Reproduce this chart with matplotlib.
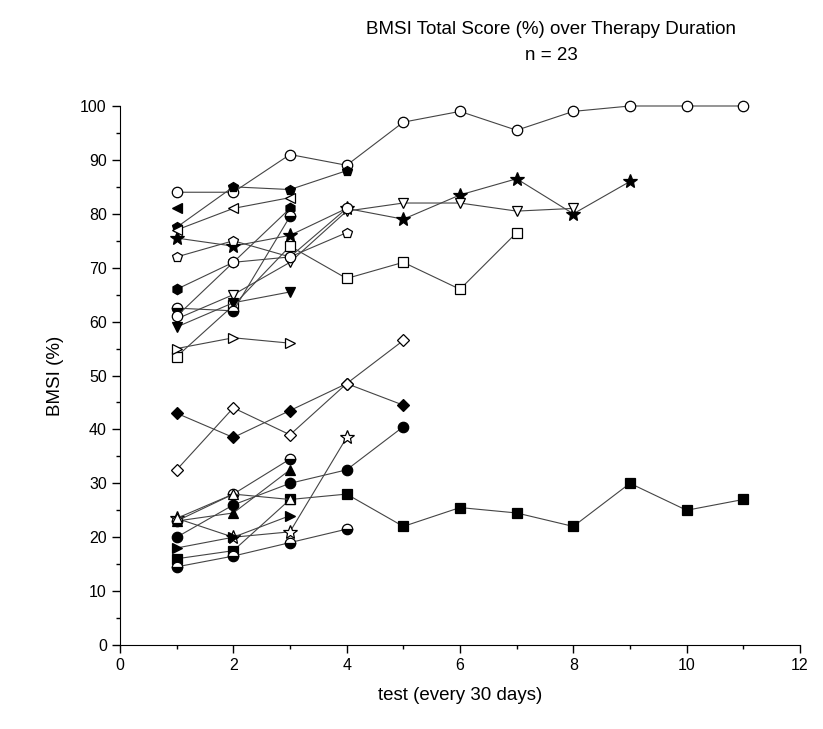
import matplotlib
matplotlib.use('Agg')
import matplotlib.pyplot as plt

plt.rcParams['font.family'] = ['Liberation Sans', 'DejaVu Sans']

title = "BMSI Total Score (%) over Therapy Duration"
subtitle = "n = 23"
x_label = "test (every 30 days)"
y_label = "BMSI (%)"

# one list per patient, test 1..n
# (values, marker, fill) fill: 'open', 'full', 'bottom'
patients = [
    ([84, 84, 91, 89, 97, 99, 95.5, 99, 100, 100, 100], 'o', 'open'),
    ([77.5, 85, 84.5, 88], 'p', 'full'),
    ([75.5, 74, 76, 81, 79, 83.5, 86.5, 80, 86], '*', 'full'),
    ([60.5, 65, 71, 80.5, 82, 82, 80.5, 81], 'v', 'open'),
    ([53.5, 63, 74, 68, 71, 66, 76.5], 's', 'open'),
    ([72, 75, 72, 76.5], 'p', 'open'),
    ([66, 71, 81], 'h', 'full'),
    ([77, 81, 83], '<', 'open'),
    ([81], '<', 'full'),
    ([55, 57, 56], '>', 'open'),
    ([59, 63.5, 65.5], 'v', 'full'),
    ([62.5, 62, 79.5], 'o', 'bottom'),
    ([61, 71, 72, 81], 'o', 'open'),
    ([43, 38.5, 43.5, 48.5, 44.5], 'D', 'full'),
    ([32.5, 44, 39, 48.5, 56.5], 'D', 'open'),
    ([16, 17.5, 27, 28, 22, 25.5, 24.5, 22, 30, 25, 27], 's', 'full'),
    ([20, 26, 30, 32.5, 40.5], 'o', 'full'),
    ([23.5, 20, 21, 38.5], '*', 'open'),
    ([14.5, 16.5, 19, 21.5], 'o', 'bottom'),
    ([23, 24.5, 32.5], '^', 'full'),
    ([18, 20, 24], '>', 'full'),
    ([23, 28, 34.5], 'o', 'bottom'),
    ([23.5, 28, 27], '^', 'open'),
]

fig = plt.figure(figsize=(8.23, 7.29), dpi=100)
ax = fig.add_axes([0.1458, 0.1152, 0.8262, 0.7394])

for vals, mk, fill in patients:
    xs = list(range(1, len(vals) + 1))
    size = 10 if mk == '*' else 7.5
    if mk == 'D':
        size = 6.5
    kw = dict(color='#444444', lw=0.8, marker=mk, markersize=size,
              markeredgecolor='black', markeredgewidth=0.9, clip_on=False)
    if fill == 'open':
        kw.update(markerfacecolor='white')
    elif fill == 'full':
        kw.update(markerfacecolor='black')
    else:
        kw.update(markerfacecolor='black', fillstyle='bottom',
                  markerfacecoloralt='white')
    ax.plot(xs, vals, **kw)

ax.set_xlim(0, 12)
ax.set_ylim(0, 100)
ax.set_xticks(range(0, 13, 2))
ax.set_xticks(range(1, 12, 2), minor=True)
ax.set_yticks(range(0, 101, 10))
ax.set_yticks(range(5, 100, 10), minor=True)
ax.spines['top'].set_visible(False)
ax.spines['right'].set_visible(False)
ax.tick_params(direction='out', length=6, width=1, labelsize=11.5)
ax.tick_params(which='minor', direction='out', length=3, width=1)

ax.set_xlabel(x_label, fontsize=13.5, labelpad=10)
ax.set_ylabel(y_label, fontsize=13.5, labelpad=12)

fig.text(551 / 823, 1 - 30 / 729, title, ha='center', va='center', fontsize=13.5)
fig.text(551 / 823, 1 - 55 / 729, subtitle, ha='center', va='center', fontsize=13.5)

fig.savefig('out.png', dpi=100)
